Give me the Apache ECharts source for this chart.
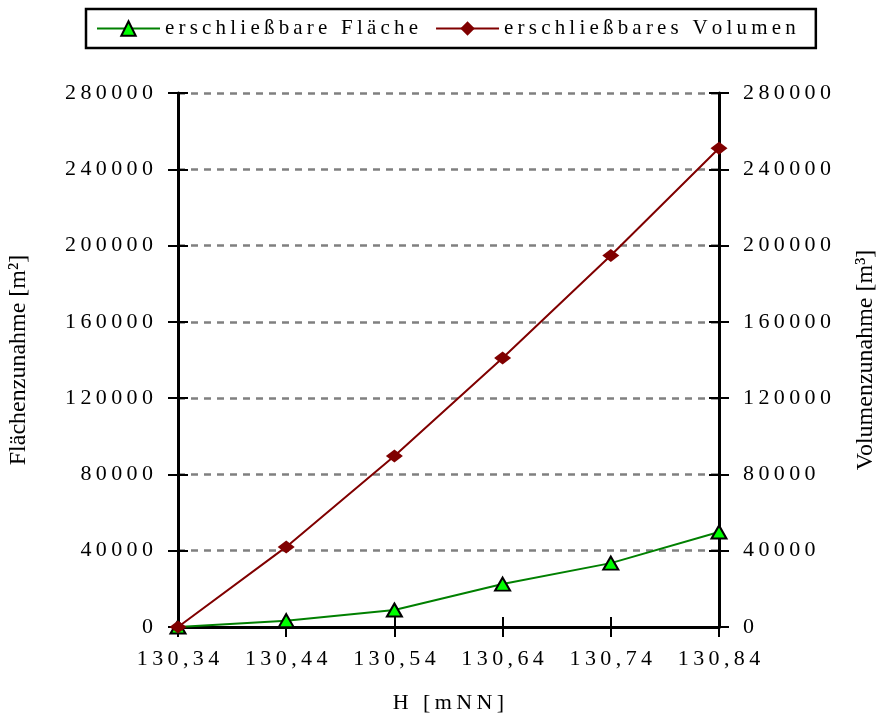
<!DOCTYPE html>
<html>
<head>
<meta charset="utf-8">
<script src="https://cdn.jsdelivr.net/npm/echarts@6/dist/echarts.min.js"></script>
<style>
  html, body { margin: 0; padding: 0; background: #fff; }
  #chart { width: 877px; height: 715px; }
</style>
</head>
<body>
<div id="chart"></div>
<script>
// data
const heights = ['130,34', '130,44', '130,54', '130,64', '130,74', '130,84'];
const flaeche = [0, 3300, 8900, 22500, 33500, 49800];
const volumen = [0, 42000, 89700, 141000, 194800, 251000];
const yTicks = [0, 40000, 80000, 120000, 160000, 200000, 240000, 280000];

const FONT = '"Liberation Serif", "Times New Roman", serif';
// the original uses wide letter spacing, faked with thin spaces
const spaced = s => String(s).split('').join('\u2009');

const chart = echarts.init(document.getElementById('chart'), null, { renderer: 'canvas' });

const tickOut = { show: true, inside: false, length: 10, lineStyle: { color: '#000', width: 2 } };
const tickIn = { show: true, inside: true, length: 10, lineStyle: { color: '#000', width: 2 } };

const yBase = {
  type: 'value',
  min: yTicks[0],
  max: yTicks[yTicks.length - 1],
  interval: 40000
};

const option = {
  backgroundColor: '#fff',
  animation: false,
  grid: { left: 178, right: 158, top: 93, bottom: 88, containLabel: false, outerBoundsMode: 'none' },
  legend: {
    left: 86,
    top: 9,
    padding: [9, 20, 9, 10],
    borderColor: '#000',
    borderWidth: 2.5,
    itemWidth: 63,
    itemHeight: 18,
    itemGap: 17,
    formatter: name => spaced(name),
    textStyle: { fontFamily: FONT, fontSize: 21, color: '#000' },
    data: ['erschließbare Fläche', 'erschließbares Volumen']
  },
  xAxis: [
    {
      type: 'category',
      data: heights,
      boundaryGap: false,
      position: 'bottom',
      name: spaced('H [mNN]'),
      nameLocation: 'middle',
      nameGap: 65,
      nameTextStyle: { fontFamily: FONT, fontSize: 22, color: '#000' },
      axisLine: { show: true, lineStyle: { color: '#000', width: 3 } },
      axisTick: tickOut,
      axisLabel: {
        margin: 21,
        fontFamily: FONT,
        fontSize: 22,
        color: '#000',
        formatter: v => spaced(v)
      },
      splitLine: { show: false }
    },
    {
      type: 'category',
      data: heights,
      boundaryGap: false,
      position: 'bottom',
      axisLine: { show: false },
      axisTick: tickIn,
      axisLabel: { show: false },
      splitLine: { show: false }
    }
  ],
  yAxis: [
    Object.assign({}, yBase, {
      position: 'left',
      name: 'Flächenzunahme [m²]',
      nameLocation: 'middle',
      nameRotate: 90,
      nameGap: 147,
      nameTextStyle: { fontFamily: FONT, fontSize: 24, color: '#000' },
      axisLine: { show: true, lineStyle: { color: '#000', width: 3 } },
      axisTick: tickOut,
      axisLabel: { margin: 25, fontFamily: FONT, fontSize: 22, color: '#000', formatter: v => spaced(v) },
      splitLine: { show: true, lineStyle: { color: '#808080', width: 2.5, type: [7, 6] } }
    }),
    Object.assign({}, yBase, {
      position: 'right',
      name: 'Volumenzunahme [m³]',
      nameLocation: 'middle',
      nameRotate: 90,
      nameGap: 135,
      nameTextStyle: { fontFamily: FONT, fontSize: 24, color: '#000' },
      axisLine: { show: true, lineStyle: { color: '#000', width: 3 } },
      axisTick: tickOut,
      axisLabel: { margin: 24, fontFamily: FONT, fontSize: 22, color: '#000', formatter: v => spaced(v) },
      splitLine: { show: false }
    }),
    Object.assign({}, yBase, {
      position: 'left',
      axisLine: { show: false },
      axisTick: tickIn,
      axisLabel: { show: false },
      splitLine: { show: false }
    }),
    Object.assign({}, yBase, {
      position: 'right',
      axisLine: { show: false },
      axisTick: tickIn,
      axisLabel: { show: false },
      splitLine: { show: false }
    })
  ],
  series: [
    {
      name: 'erschließbare Fläche',
      type: 'line',
      xAxisIndex: 0,
      yAxisIndex: 0,
      data: flaeche,
      symbol: 'triangle',
      symbolSize: [15, 13],
      showAllSymbol: true,
      lineStyle: { color: '#008000', width: 2 },
      itemStyle: { color: '#00ff00', borderColor: '#000', borderWidth: 2 },
      z: 3
    },
    {
      name: 'erschließbares Volumen',
      type: 'line',
      xAxisIndex: 0,
      yAxisIndex: 1,
      data: volumen,
      symbol: 'diamond',
      symbolSize: [17, 13],
      showAllSymbol: true,
      lineStyle: { color: '#800000', width: 2 },
      itemStyle: { color: '#800000', borderColor: '#800000', borderWidth: 0 },
      z: 4
    }
  ]
};

chart.setOption(option);
</script>
</body>
</html>
